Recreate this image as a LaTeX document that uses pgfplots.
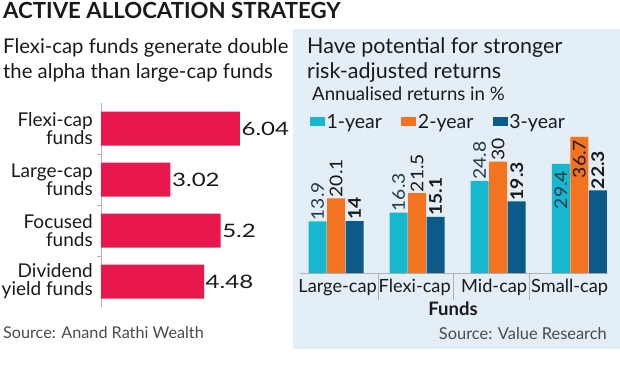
\documentclass[border=0pt]{standalone}
\usepackage{pgfplots}
\pgfplotsset{compat=1.18}
\usepackage{pgfplotstable}
\usepackage{fontspec}
\setmainfont{Lato}
\newfontfamily\numfontL{Lato}[FakeStretch=1.3]
\newfontfamily\numfontR{Lato}[FakeStretch=1.1]
\definecolor{crim}{HTML}{E8184F}
\definecolor{cy}{HTML}{17B7CE}
\definecolor{og}{HTML}{F37321}
\definecolor{nv}{HTML}{0B5A8A}
\definecolor{panel}{HTML}{E4EEF6}
\definecolor{txt}{HTML}{1A1A1A}
\definecolor{lbl}{HTML}{233A48}
\definecolor{src}{HTML}{4A4A4A}

\pgfplotstableread{
y v
0 6.04
1 3.02
2 5.2
3 4.48
}\lefttab

\pgfplotstableread{
x v lab
0 13.9 13.9
1 16.3 16.3
2 24.8 24.8
3 29.4 {}
}\oneyr
\pgfplotstableread{
x v lab
0 20.1 20.1
1 21.5 21.5
2 30 30
3 36.7 {}
}\twoyr
\pgfplotstableread{
x v lab
0 14 14
1 15.1 15.1
2 19.3 19.3
3 22.3 22.3
}\threeyr

\newcommand{\fs}[1]{\fontsize{#1}{#1}\selectfont}
\pgfplotsset{lblstyle/.style={
  point meta=explicit symbolic,
  nodes near coords={\numfontR\fs{17.5}\pgfplotspointmeta},
  nodes near coords style={rotate=90, anchor=west, inner sep=1pt},
}}

\begin{document}
\begin{tikzpicture}
\path[use as bounding box] (0pt,0pt) rectangle (620pt,-364pt);
\fill[panel] (293pt,-29pt) rectangle (620pt,-349pt);

\node[anchor=base west, inner sep=0pt, text=txt] at (3pt,-18.5pt) {\fs{22.2}\bfseries ACTIVE ALLOCATION STRATEGY};
\node[anchor=base west, inner sep=0pt, text=txt] at (3pt,-53pt) {\fs{20.3}Flexi-cap funds generate double};
\node[anchor=base west, inner sep=0pt, text=txt] at (3pt,-78pt) {\fs{20.3}the alpha than large-cap funds};
\node[anchor=base west, inner sep=0pt, text=txt] at (307pt,-53pt) {\fs{21.5}Have potential for stronger};
\node[anchor=base west, inner sep=0pt, text=txt] at (307pt,-78pt) {\fs{21.5}risk-adjusted returns};
\node[anchor=base west, inner sep=0pt, text=txt] at (312pt,-100pt) {\fs{18.6}Annualised returns in \%};
\node[anchor=base west, inner sep=0pt, text=src] at (3pt,-338pt) {\fs{16.2}Source: Anand Rathi Wealth};
\node[anchor=base east, inner sep=0pt, text=src] at (607pt,-339pt) {\fs{16.4}Source: Value Research};
\node[anchor=base, inner sep=0pt, text=txt] at (453pt,-315pt) {\fs{18.5}\bfseries Funds};

% left chart
\begin{axis}[
  at={(101pt,-307pt)}, anchor=south west,
  scale only axis, width=184pt, height=204pt,
  xmin=0, xmax=8, ymin=-0.5, ymax=3.5, y dir=reverse,
  xbar, bar width=34pt,
  axis x line=none, axis y line=left,
  axis line style={-, draw=gray!60},
  ytick={0,1,2,3},
  yticklabels={{Flexi-cap\\funds},{Large-cap\\funds},{Focused\\funds},{Dividend\\yield funds}},
  yticklabel style={align=right, font=\fontsize{19}{18}\selectfont, text=txt, inner sep=0pt, xshift=-8pt},
  major tick length=0pt,
  extra y ticks={0.5,1.5,2.5}, extra y tick labels={},
  extra y tick style={major tick length=4pt, tick align=outside, tick style={draw=gray!60}},
  /pgf/number format/assume math mode=true,
  nodes near coords={\numfontL\fs{18.5}\pgfmathprintnumber{\pgfplotspointmeta}},
  nodes near coords style={text=txt, anchor=west, inner sep=1.5pt},
  clip=false,
]
\addplot[fill=crim, draw=none] table[x=v, y=y] {\lefttab};
\end{axis}

% right chart
\begin{axis}[
  at={(300pt,-273pt)}, anchor=south west,
  scale only axis, width=308pt, height=137.3pt,
  xmin=-0.444, xmax=3.354, ymin=0, ymax=37,
  ybar, bar width=18pt,
  axis x line=bottom, axis y line=none,
  axis line style={-, draw=gray!60},
  xtick={0.02,0.97,1.95,2.88},
  xticklabels={Large-cap,Flexi-cap,Mid-cap,Small-cap},
  xticklabel style={font=\fs{18.2}, text=txt, anchor=base, yshift=-19pt, inner sep=0pt},
  major tick length=0pt,
  extra x ticks={0.52,1.45,2.39}, extra x tick labels={},
  extra x tick style={major tick length=27pt, tick align=outside, tick style={draw=gray!60, line width=0.8pt}},
  clip=false,
  legend style={at={(rel axis cs:0.032,1.10)}, anchor=west, draw=none, fill=none,
    legend columns=3, font=\fs{19.5}, text=txt, inner sep=0pt,
    /tikz/every even column/.append style={column sep=18pt},
    nodes={inner xsep=1.5pt}},
  legend image code/.code={\path[#1, draw=none] (0pt,-4.5pt) rectangle (15pt,4.5pt);},
]
\addplot[fill=cy, draw=none, bar shift=-18.5pt, lblstyle, nodes near coords style={text=lbl}] table[x=x, y=v, meta=lab] {\oneyr};
\addplot[fill=og, draw=none, bar shift=0pt, lblstyle, nodes near coords style={text=txt}] table[x=x, y=v, meta=lab] {\twoyr};
\addplot[fill=nv, draw=none, bar shift=18.5pt, lblstyle, nodes near coords={\numfontR\fs{17.5}\bfseries\pgfplotspointmeta}, nodes near coords style={text=txt}] table[x=x, y=v, meta=lab] {\threeyr};
\legend{1-year,2-year,3-year}
% labels that sit inside the tallest bars
\addplot[forget plot, draw=none, fill=none, bar shift=-18.5pt, point meta=explicit symbolic,
  nodes near coords={\numfontR\fs{17.5}\pgfplotspointmeta},
  nodes near coords style={rotate=90, anchor=east, inner sep=1pt, xshift=-6pt, text=lbl}]
  coordinates {(3,29.4) [29.4]};
\addplot[forget plot, draw=none, fill=none, bar shift=0pt, point meta=explicit symbolic,
  nodes near coords={\numfontR\fs{17.5}\pgfplotspointmeta},
  nodes near coords style={rotate=90, anchor=east, inner sep=1pt, xshift=-2pt, text=txt}]
  coordinates {(3,36.7) [36.7]};
\end{axis}
\end{tikzpicture}
\end{document}
